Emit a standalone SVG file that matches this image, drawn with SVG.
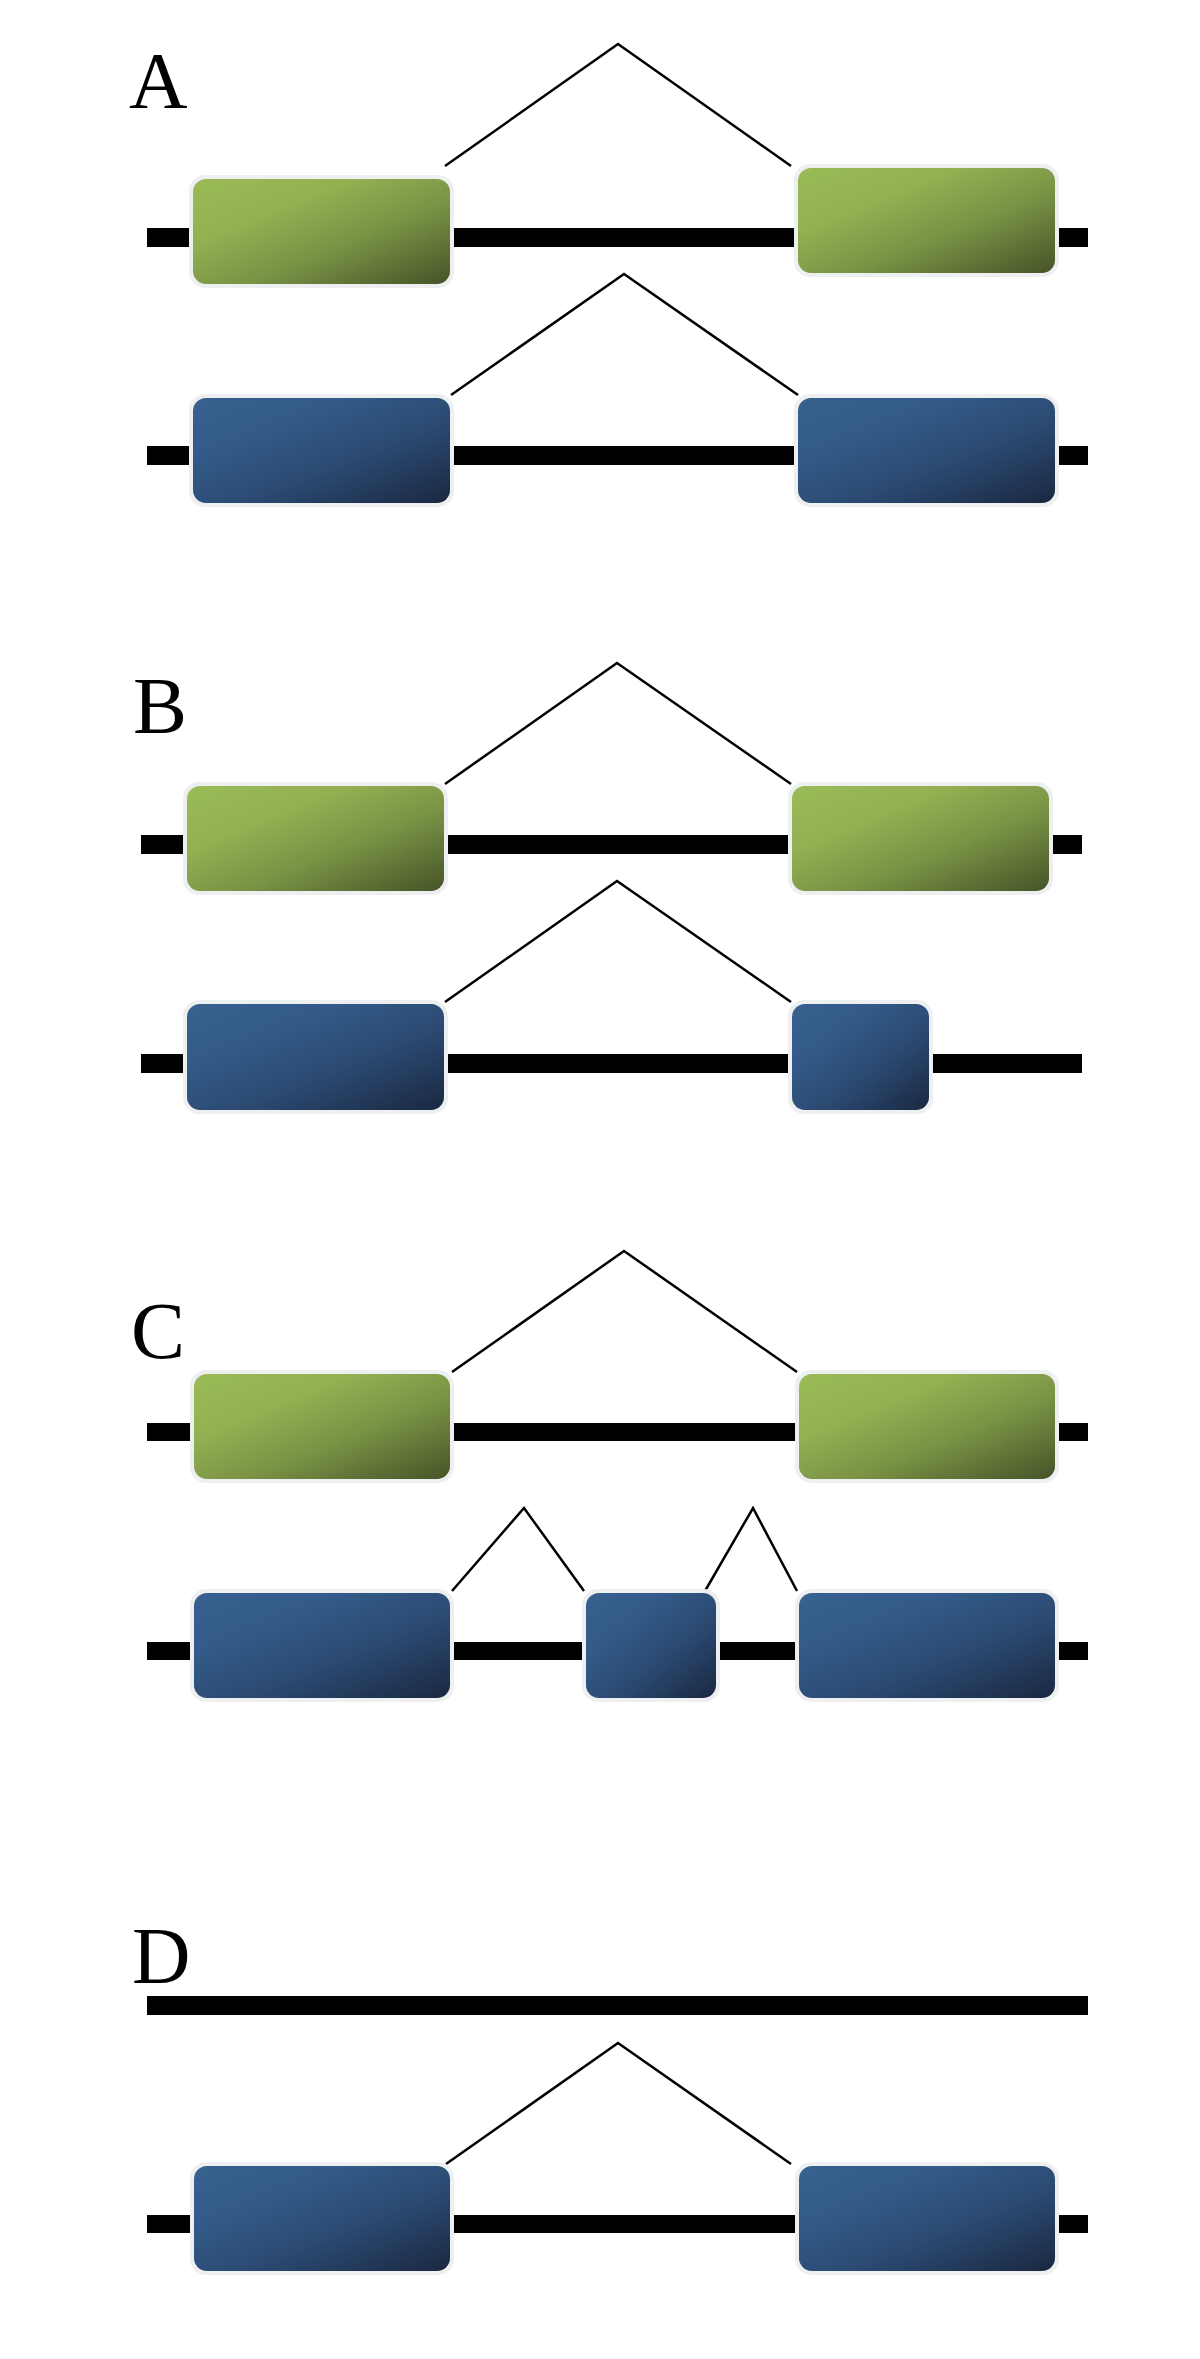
<svg xmlns="http://www.w3.org/2000/svg" width="1200" height="2359" viewBox="0 0 1200 2359">
<defs>
<linearGradient id="gGreen" x1="0" y1="0" x2="1" y2="1">
<stop offset="0" stop-color="#9aba57"/>
<stop offset="0.3" stop-color="#94b152"/>
<stop offset="0.6" stop-color="#7a9345"/>
<stop offset="1" stop-color="#465428"/>
</linearGradient>
<linearGradient id="gBlue" x1="0" y1="0" x2="1" y2="1">
<stop offset="0" stop-color="#37618f"/>
<stop offset="0.3" stop-color="#335a88"/>
<stop offset="0.6" stop-color="#2b4a72"/>
<stop offset="1" stop-color="#1a2841"/>
</linearGradient>
</defs>
<style>
.bar{fill:#000}
.halo{fill:#eeeff0}
.green{fill:url(#gGreen)}
.blue{fill:url(#gBlue)}
.intron{fill:none;stroke:#000;stroke-width:2.5;stroke-linejoin:miter}
.lbl{font-family:"Liberation Serif","Times New Roman",serif;font-size:81px;fill:#000}
</style>
<rect width="1200" height="2359" fill="#fff"/>

<g id="bars">
<rect class="bar" x="147" y="228" width="941" height="19"/>
<rect class="bar" x="147" y="446" width="941" height="19"/>
<rect class="bar" x="141" y="835" width="941" height="19"/>
<rect class="bar" x="141" y="1054" width="941" height="19"/>
<rect class="bar" x="147" y="1423" width="941" height="18"/>
<rect class="bar" x="147" y="1642" width="941" height="18"/>
<rect class="bar" x="147" y="1996" width="941" height="19"/>
<rect class="bar" x="147" y="2215" width="941" height="18"/>
</g>

<g id="connectors">
<polyline class="intron" points="445,166 618,44 791,166"/>
<polyline class="intron" points="451,395 624,274 798,395"/>
<polyline class="intron" points="445,784 617,663 791,784"/>
<polyline class="intron" points="445,1002 617,881 791,1002"/>
<polyline class="intron" points="452,1372 624,1251 797,1372"/>
<polyline class="intron" points="452,1591 524,1508 584,1591"/>
<polyline class="intron" points="705,1591 753,1508 797,1591"/>
<polyline class="intron" points="446,2164 618,2043 791,2164"/>
</g>

<g id="label-A"><text class="lbl" x="129" y="108">A</text></g>
<g id="A-green-1"><rect class="halo" x="189" y="175" width="265" height="113" rx="16"/><rect class="green" x="193" y="179" width="257" height="105" rx="13"/></g>
<g id="A-green-2"><rect class="halo" x="794" y="164" width="265" height="113" rx="16"/><rect class="green" x="798" y="168" width="257" height="105" rx="13"/></g>
<g id="A-blue-1"><rect class="halo" x="189" y="394" width="265" height="113" rx="16"/><rect class="blue" x="193" y="398" width="257" height="105" rx="13"/></g>
<g id="A-blue-2"><rect class="halo" x="794" y="394" width="265" height="113" rx="16"/><rect class="blue" x="798" y="398" width="257" height="105" rx="13"/></g>

<g id="label-B"><text class="lbl" x="133" y="733">B</text></g>
<g id="B-green-1"><rect class="halo" x="183" y="782" width="265" height="113" rx="16"/><rect class="green" x="187" y="786" width="257" height="105" rx="13"/></g>
<g id="B-green-2"><rect class="halo" x="788" y="782" width="265" height="113" rx="16"/><rect class="green" x="792" y="786" width="257" height="105" rx="13"/></g>
<g id="B-blue-1"><rect class="halo" x="183" y="1000" width="265" height="114" rx="16"/><rect class="blue" x="187" y="1004" width="257" height="106" rx="13"/></g>
<g id="B-blue-2"><rect class="halo" x="788" y="1000" width="145" height="114" rx="16"/><rect class="blue" x="792" y="1004" width="137" height="106" rx="13"/></g>

<g id="label-C"><text class="lbl" x="131" y="1358">C</text></g>
<g id="C-green-1"><rect class="halo" x="190" y="1370" width="264" height="113" rx="16"/><rect class="green" x="194" y="1374" width="256" height="105" rx="13"/></g>
<g id="C-green-2"><rect class="halo" x="795" y="1370" width="264" height="113" rx="16"/><rect class="green" x="799" y="1374" width="256" height="105" rx="13"/></g>
<g id="C-blue-1"><rect class="halo" x="190" y="1589" width="264" height="113" rx="16"/><rect class="blue" x="194" y="1593" width="256" height="105" rx="13"/></g>
<g id="C-blue-2"><rect class="halo" x="582" y="1589" width="138" height="113" rx="16"/><rect class="blue" x="586" y="1593" width="130" height="105" rx="13"/></g>
<g id="C-blue-3"><rect class="halo" x="795" y="1589" width="264" height="113" rx="16"/><rect class="blue" x="799" y="1593" width="256" height="105" rx="13"/></g>

<g id="label-D"><text class="lbl" x="132" y="1983">D</text></g>
<g id="D-blue-1"><rect class="halo" x="190" y="2162" width="264" height="113" rx="16"/><rect class="blue" x="194" y="2166" width="256" height="105" rx="13"/></g>
<g id="D-blue-2"><rect class="halo" x="795" y="2162" width="264" height="113" rx="16"/><rect class="blue" x="799" y="2166" width="256" height="105" rx="13"/></g>
</svg>
